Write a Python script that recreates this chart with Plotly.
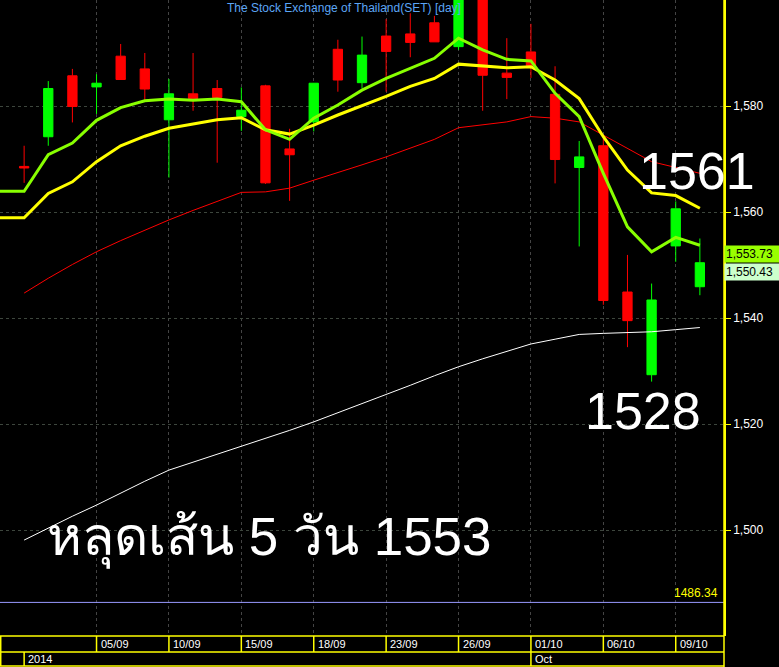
import plotly.graph_objects as go

# ---------------- data ----------------
dates = ["01/09", "02/09", "03/09", "04/09", "05/09", "08/09", "09/09", "10/09", "11/09", "12/09",
         "15/09", "16/09", "17/09", "18/09", "19/09", "22/09", "23/09", "24/09", "25/09", "26/09",
         "29/09", "30/09", "01/10", "02/10", "03/10", "06/10", "07/10", "08/10", "09/10", "10/10"]

# candles exist from 02/09 onward
candle_dates = dates[1:]
opens = [1568.6, 1574.2, 1585.7, 1583.6, 1589.4, 1587.0, 1577.4, 1582.3, 1583.3, 1578.0,
         1583.8, 1571.9, 1577.0, 1590.7, 1584.4, 1593.2, 1593.6, 1595.7, 1591.2, 1603.0,
         1586.2, 1590.2, 1582.2, 1568.4, 1572.5, 1544.9, 1529.3, 1553.6, 1545.9]
highs = [1572.5, 1584.7, 1587.0, 1586.0, 1591.7, 1590.0, 1585.1, 1590.0, 1584.9, 1583.5,
         1584.0, 1575.7, 1584.3, 1592.5, 1593.1, 1596.4, 1597.5, 1597.0, 1604.0, 1604.0,
         1592.8, 1595.5, 1587.5, 1573.4, 1574.2, 1551.9, 1546.5, 1562.0, 1555.0]
lows = [1565.5, 1572.5, 1576.9, 1578.5, 1585.0, 1581.1, 1566.5, 1579.1, 1569.3, 1575.3,
        1565.3, 1562.1, 1575.2, 1582.7, 1583.3, 1582.7, 1589.2, 1592.1, 1590.6, 1579.1,
        1581.3, 1585.3, 1565.4, 1553.5, 1542.5, 1534.5, 1528.0, 1550.6, 1544.3]
closes = [1568.3, 1583.3, 1579.9, 1584.3, 1585.0, 1583.2, 1582.3, 1581.4, 1581.6, 1579.2,
          1565.5, 1570.8, 1584.3, 1584.9, 1589.6, 1590.3, 1592.0, 1592.1, 1602.0, 1585.8,
          1585.4, 1587.6, 1569.9, 1570.4, 1543.3, 1539.5, 1543.4, 1560.6, 1550.43]

ma_green = [1563.9, 1563.9, 1570.8, 1573.0, 1577.3, 1579.7, 1581.0, 1581.3, 1581.1, 1581.3,
            1580.8, 1575.5, 1573.7, 1577.7, 1580.2, 1583.0, 1585.2, 1587.1, 1589.0, 1592.8,
            1590.6, 1588.8, 1588.5, 1582.4, 1578.0, 1567.3, 1557.2, 1552.5, 1555.2, 1553.73]
ma_yellow = [1558.9, 1558.9, 1563.5, 1565.7, 1569.5, 1572.5, 1574.3, 1575.8, 1576.6, 1577.4,
             1577.8, 1575.5, 1574.7, 1576.4, 1578.3, 1580.0, 1581.8, 1583.7, 1585.2, 1587.9,
             1587.5, 1587.2, 1587.4, 1584.9, 1581.4, 1574.2, 1567.9, 1563.6, 1563.1, 1560.7]
ma_red = [None, 1544.7, 1547.5, 1550.1, 1552.5, 1554.6, 1556.6, 1558.5, 1560.3, 1562.0,
          1563.7, 1563.8, 1564.5, 1566.0, 1567.4, 1568.9, 1570.4, 1572.0, 1573.7, 1575.9,
          1576.4, 1577.0, 1578.0, 1577.7, 1577.0, 1574.5, 1572.0, 1569.5, 1568.4, 1567.3]
ma_white = [None, 1498.1, 1500.4, 1502.6, 1504.7, 1507.0, 1509.2, 1511.3, 1512.8, 1514.3,
            1515.7, 1517.2, 1518.8, 1520.4, 1522.1, 1523.8, 1525.5, 1527.3, 1529.1, 1530.8,
            1532.3, 1533.7, 1535.1, 1536.0, 1536.9, 1537.1, 1537.2, 1537.4, 1537.8, 1538.2]

label_dates = ["05/09", "10/09", "15/09", "18/09", "23/09", "26/09", "01/10", "06/10", "09/10"]
period_labels = [("02/09", "2014"), ("01/10", "Oct")]
y_ticks = [1500, 1520, 1540, 1560, 1580]
last_ma = 1553.73
last_close = 1550.43
low_level = 1486.34
title_text = "The Stock Exchange of Thailand(SET) [day]"
note_high = "1561"
note_low = "1528"
note_main = "หลุดเส้น 5 วัน 1553"

# ---------------- layout constants ----------------
W, H = 779, 667
ML, MR, MT, MB = 0, 55, 0, 31
PLOT_H = H - MT - MB


def paper_y(px):
    return (H - MB - px) / PLOT_H


idx = {d: i for i, d in enumerate(dates)}
xs = list(range(len(dates)))
cx = [idx[d] for d in candle_dates]

FONT = "Arial, Liberation Sans, DejaVu Sans, sans-serif"

fig = go.Figure()
fig.add_trace(go.Candlestick(
    x=cx, open=opens, high=highs, low=lows, close=closes,
    increasing=dict(line=dict(color="#00ff00", width=1), fillcolor="#00ff00"),
    decreasing=dict(line=dict(color="#ff0000", width=1), fillcolor="#ff0000"),
    whiskerwidth=0, showlegend=False, hoverinfo="skip"))

fig.add_trace(go.Scatter(x=xs, y=ma_white, mode="lines", line=dict(color="#ffffff", width=1),
                         showlegend=False, hoverinfo="skip"))
fig.add_trace(go.Scatter(x=xs, y=ma_red, mode="lines", line=dict(color="#ff0000", width=1),
                         showlegend=False, hoverinfo="skip"))
fig.add_trace(go.Scatter(x=xs, y=ma_yellow, mode="lines", line=dict(color="#ffff00", width=3),
                         showlegend=False, hoverinfo="skip"))
fig.add_trace(go.Scatter(x=xs, y=ma_green, mode="lines", line=dict(color="#88ff00", width=3),
                         showlegend=False, hoverinfo="skip"))

shapes = []
# horizontal level line
shapes.append(dict(type="line", xref="paper", yref="y", x0=0, x1=1, y0=low_level, y1=low_level,
                   line=dict(color="#9a9aff", width=1)))
# right axis line extended to bottom
shapes.append(dict(type="line", xref="paper", yref="paper", x0=1, x1=1, y0=paper_y(H), y1=1,
                   line=dict(color="#ffff00", width=1.5)))
# date band borders
for py_ in [636, 652, 666]:
    shapes.append(dict(type="line", xref="paper", yref="paper", x0=0, x1=1,
                       y0=paper_y(py_), y1=paper_y(py_), line=dict(color="#ffff00", width=1.5)))
shapes.append(dict(type="line", xref="paper", yref="paper", x0=0.001, x1=0.001,
                   y0=paper_y(666), y1=paper_y(636), line=dict(color="#ffff00", width=1.5)))
for d in label_dates:
    shapes.append(dict(type="line", xref="x", yref="paper", x0=idx[d], x1=idx[d],
                       y0=paper_y(652), y1=paper_y(636), line=dict(color="#ffff00", width=1.5)))
for d, _ in period_labels:
    shapes.append(dict(type="line", xref="x", yref="paper", x0=idx[d], x1=idx[d],
                       y0=paper_y(666), y1=paper_y(652), line=dict(color="#ffff00", width=1.5)))

annotations = []
for d in label_dates:
    annotations.append(dict(x=idx[d], xref="x", y=paper_y(644), yref="paper", text=d,
                            showarrow=False, xanchor="left", yanchor="middle", xshift=2,
                            font=dict(family=FONT, size=11, color="#ffffff")))
for d, t in period_labels:
    annotations.append(dict(x=idx[d], xref="x", y=paper_y(659), yref="paper", text=t,
                            showarrow=False, xanchor="left", yanchor="middle", xshift=2,
                            font=dict(family=FONT, size=11, color="#ffffff")))

annotations.append(dict(x=0.475, xref="paper", y=paper_y(8), yref="paper", text=title_text,
                        showarrow=False, xanchor="center", yanchor="middle",
                        font=dict(family=FONT, size=12, color="#5ca6f5")))

annotations.append(dict(x=1, xref="paper", y=last_ma, yref="y", text="1,553.73",
                        showarrow=False, xanchor="left", yanchor="top", bgcolor="#99ff00",
                        borderpad=1, width=52, align="left",
                        font=dict(family=FONT, size=12, color="#000000")))
annotations.append(dict(x=1, xref="paper", y=last_close, yref="y", text="1,550.43",
                        showarrow=False, xanchor="left", yanchor="top", bgcolor="#ccffcc",
                        borderpad=1, width=52, align="left",
                        font=dict(family=FONT, size=12, color="#000000")))
annotations.append(dict(x=0.995, xref="paper", y=low_level, yref="y", text="1486.34",
                        showarrow=False, xanchor="right", yanchor="bottom",
                        font=dict(family=FONT, size=12, color="#ffff00")))

annotations.append(dict(x=697 / (W - MR), xref="paper", y=paper_y(171), yref="paper", text=note_high,
                        showarrow=False, xanchor="center", yanchor="middle",
                        font=dict(family=FONT, size=52, color="#ffffff")))
annotations.append(dict(x=643 / (W - MR), xref="paper", y=paper_y(411), yref="paper", text=note_low,
                        showarrow=False, xanchor="center", yanchor="middle",
                        font=dict(family=FONT, size=52, color="#ffffff")))
annotations.append(dict(x=45 / (W - MR), xref="paper", y=paper_y(538), yref="paper", text=note_main,
                        showarrow=False, xanchor="left", yanchor="middle",
                        font=dict(family=FONT, size=53, color="#ffffff")))

fig.update_layout(
    width=W, height=H,
    margin=dict(l=ML, r=MR, t=MT, b=MB),
    paper_bgcolor="#000000", plot_bgcolor="#000000",
    showlegend=False, boxgap=0.45,
    shapes=shapes, annotations=annotations,
    xaxis=dict(range=[0, 30], tickvals=[idx[d] for d in label_dates], showticklabels=False,
               ticks="", showgrid=True, gridcolor="#444444", griddash="3px,3px", gridwidth=1,
               zeroline=False, showline=False, rangeslider=dict(visible=False), fixedrange=True),
    yaxis=dict(side="right", range=[1480, 1600], tickvals=y_ticks, tickformat=",d",
               ticks="outside", ticklen=5, tickcolor="#ffff00", tickwidth=1,
               tickfont=dict(family=FONT, size=12, color="#ffffff"),
               showgrid=True, gridcolor="#3d463d", griddash="3px,3px", gridwidth=1,
               zeroline=False, showline=True, linecolor="#ffff00", linewidth=1.5, fixedrange=True),
)

fig.write_html("out.html", config={"displayModeBar": False})

# remove the default page margin so the figure sits at the window's top-left corner
with open("out.html", "r", encoding="utf-8") as f:
    html = f.read()
html = html.replace("<head>", "<head><style>html,body{margin:0;padding:0;overflow:hidden;background:#000;}</style>", 1)
with open("out.html", "w", encoding="utf-8") as f:
    f.write(html)
